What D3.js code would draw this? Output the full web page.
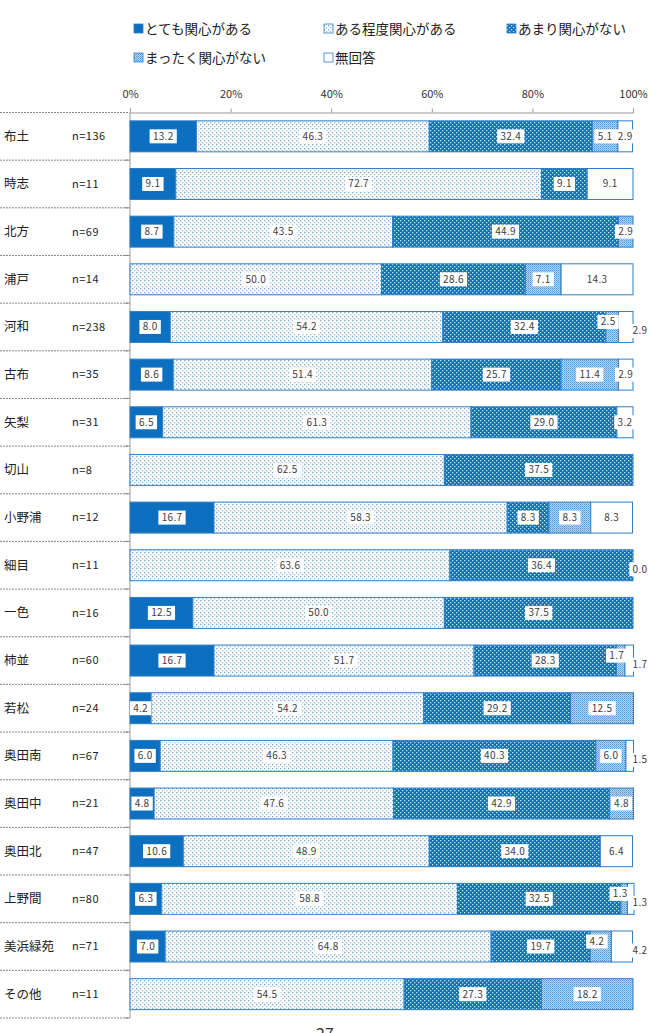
<!DOCTYPE html>
<html><head><meta charset="utf-8">
<script src="https://cdn.jsdelivr.net/npm/d3@7"></script>
<style>body{margin:0;background:#fff}svg{display:block}</style>
</head><body>
<script>
const categories = ["布土","時志","北方","浦戸","河和","古布","矢梨","切山","小野浦","細目","一色","柿並","若松","奥田南","奥田中","奥田北","上野間","美浜緑苑","その他"];
const nLabels = ["n=136","n=11","n=69","n=14","n=238","n=35","n=31","n=8","n=12","n=11","n=16","n=60","n=24","n=67","n=21","n=47","n=80","n=71","n=11"];
const seriesNames = ["とても関心がある","ある程度関心がある","あまり関心がない","まったく関心がない","無回答"];
const veryInterested = [13.2,9.1,8.7,null,8.0,8.6,6.5,null,16.7,null,12.5,16.7,4.2,6.0,4.8,10.6,6.3,7.0,null];
const somewhatInterested = [46.3,72.7,43.5,50.0,54.2,51.4,61.3,62.5,58.3,63.6,50.0,51.7,54.2,46.3,47.6,48.9,58.8,64.8,54.5];
const notVery = [32.4,9.1,44.9,28.6,32.4,25.7,29.0,37.5,8.3,36.4,37.5,28.3,29.2,40.3,42.9,34.0,32.5,19.7,27.3];
const notAtAll = [5.1,null,2.9,7.1,2.5,11.4,null,null,8.3,null,null,1.7,12.5,6.0,4.8,null,1.3,4.2,18.2];
const noAnswer = [2.9,9.1,null,14.3,2.9,2.9,3.2,null,8.3,0.0,null,1.7,null,1.5,null,6.4,1.3,4.2,null];
const xTicks = [0,20,40,60,80,100];

const W = 650, H = 1033;
const keys = ["v0","v1","v2","v3","v4"];
const seriesArrays = [veryInterested, somewhatInterested, notVery, notAtAll, noAnswer];
const rows = categories.map((c,i) => {
  const r = {cat:c, n:nLabels[i]};
  keys.forEach((k,j) => r[k] = seriesArrays[j][i]);
  return r;
});

const svg = d3.select("body").append("svg").attr("width",W).attr("height",H)
  .style("font-family","'Noto Sans CJK JP','Noto Sans',sans-serif");

const blue = "#0d6fc0", edge = "#2f7fc8";
const defs = svg.append("defs");
let p = defs.append("pattern").attr("id","p1").attr("width",4).attr("height",4).attr("patternUnits","userSpaceOnUse");
p.append("rect").attr("width",4).attr("height",4).attr("fill","#ffffff");
p.append("rect").attr("x",0).attr("y",0).attr("width",1.3).attr("height",1.3).attr("fill","#72abdf");
p.append("rect").attr("x",2).attr("y",2).attr("width",1.3).attr("height",1.3).attr("fill","#95c1e8");
p = defs.append("pattern").attr("id","p2").attr("width",4).attr("height",4).attr("patternUnits","userSpaceOnUse");
p.append("rect").attr("width",4).attr("height",4).attr("fill",blue);
p.append("rect").attr("x",0).attr("y",0).attr("width",1.3).attr("height",1.3).attr("fill","#cfe3f5");
p.append("rect").attr("x",2).attr("y",2).attr("width",1.3).attr("height",1.3).attr("fill","#cfe3f5");
p = defs.append("pattern").attr("id","p3").attr("width",2).attr("height",2).attr("patternUnits","userSpaceOnUse");
p.append("rect").attr("width",2).attr("height",2).attr("fill","#b9d5ef");
p.append("rect").attr("x",0).attr("y",0).attr("width",1).attr("height",1).attr("fill","#4f93d3");
p.append("rect").attr("x",1).attr("y",1).attr("width",1).attr("height",1).attr("fill","#78addf");

const fills = [blue, "url(#p1)", "url(#p2)", "url(#p3)", "#ffffff"];

const x = d3.scaleLinear().domain([0,100]).range([130,633]);
const y = d3.scaleBand().domain(categories).range([112.5,1018]).paddingInner(0.35).paddingOuter(0.175);

// Legend
const legendPos = [[134,29],[324,29],[507,29],[134,58],[324,58]];
const lg = svg.append("g").selectAll("g").data(seriesNames).join("g")
  .attr("transform",(d,i)=>`translate(${legendPos[i][0]},${legendPos[i][1]})`);
lg.append("rect").attr("x",0).attr("y",-5).attr("width",9).attr("height",9)
  .attr("fill",(d,i)=>fills[i]).attr("stroke",edge).attr("stroke-width",0.8);
lg.append("text").attr("x",11).attr("y",0).attr("dy","0.35em").attr("font-size",13.5).attr("fill","#222").text(d=>d);

// x axis
const ax = svg.append("g").attr("transform","translate(0,112.5)")
  .call(d3.axisTop(x).tickValues(xTicks).tickFormat(d=>d+"%").tickSize(4).tickPadding(11));
ax.select(".domain").attr("stroke","#999");
ax.selectAll(".tick line").attr("stroke","#999");
ax.selectAll(".tick text").attr("font-size",11).attr("fill","#333").attr("font-family","'Noto Sans CJK JP',sans-serif");

// left panel
const step = y.step();
const boundaries = d3.range(categories.length+1).map(i => 112.5 + i*step);
svg.append("g").selectAll("line").data(boundaries).join("line")
  .attr("x1",0).attr("x2",128).attr("y1",d=>d).attr("y2",d=>d)
  .attr("stroke","#888").attr("stroke-width",1).attr("stroke-dasharray","2,1");
svg.append("g").selectAll("line").data(boundaries.slice(1)).join("line")
  .attr("x1",125).attr("x2",130).attr("y1",d=>d).attr("y2",d=>d).attr("stroke","#888");
svg.append("line").attr("x1",130).attr("x2",130).attr("y1",112.5).attr("y2",1018).attr("stroke","#999");

const catG = svg.append("g").selectAll("g").data(rows).join("g")
  .attr("transform",d=>`translate(0,${y(d.cat)+y.bandwidth()/2})`);
catG.append("text").attr("x",4).attr("dy","0.35em").attr("font-size",12.5).attr("fill","#222").text(d=>d.cat);
catG.append("text").attr("x",72).attr("dy","0.35em").attr("font-size",11).attr("letter-spacing",0.5).attr("fill","#222").text(d=>d.n);

// bars
const stack = d3.stack().keys(keys).value((d,k)=>d[k]||0);
const stacked = stack(rows);
const segG = svg.append("g");
stacked.forEach((s,si) => {
  segG.append("g").selectAll("rect").data(s.filter(d=>d[1]-d[0]>0)).join("rect")
    .attr("x",d=>x(d[0])).attr("width",d=>x(d[1])-x(d[0]))
    .attr("y",d=>y(d.data.cat)).attr("height",y.bandwidth())
    .attr("fill",fills[si]).attr("stroke",edge).attr("stroke-width",1);
});

// labels
const labels = [];
stacked.forEach((s,si) => {
  s.forEach(d => {
    const v = d.data[keys[si]];
    if (v === null || v === undefined) return;
    const cy = y(d.data.cat)+y.bandwidth()/2;
    let cx = (x(d[0])+x(d[1]))/2, dy = 0;
    const v3 = d.data.v3, v4 = d.data.v4;
    if (si === 3 && v < 5 && v4 != null && v4 > 0 && v4 < 5) { dy = -5; cx -= 4; }
    if (si === 4 && (v < 2 || (v3 != null && v3 < 5 && v < 5))) { cx = x(100)+7; dy = 4; }
    labels.push({cx, cy:cy+dy, t:v.toFixed(1)});
  });
});
const lbG = svg.append("g").selectAll("g").data(labels).join("g")
  .attr("transform",d=>`translate(${d.cx},${d.cy})`);
lbG.append("rect")
  .attr("x",d=>-(d.t.length*5.8+4)/2).attr("y",-7).attr("width",d=>d.t.length*5.8+4).attr("height",14)
  .attr("fill","#fff");
lbG.append("text").attr("text-anchor","middle").attr("dy","0.35em").attr("font-size",10)
  .attr("letter-spacing",0.3).attr("fill","#404040").text(d=>d.t);

// page number (partly below the page edge, as in the original)
svg.append("text").attr("x",325).attr("y",1040).attr("text-anchor","middle").attr("font-size",16).attr("fill","#333").text("27");
</script>
</body></html>
